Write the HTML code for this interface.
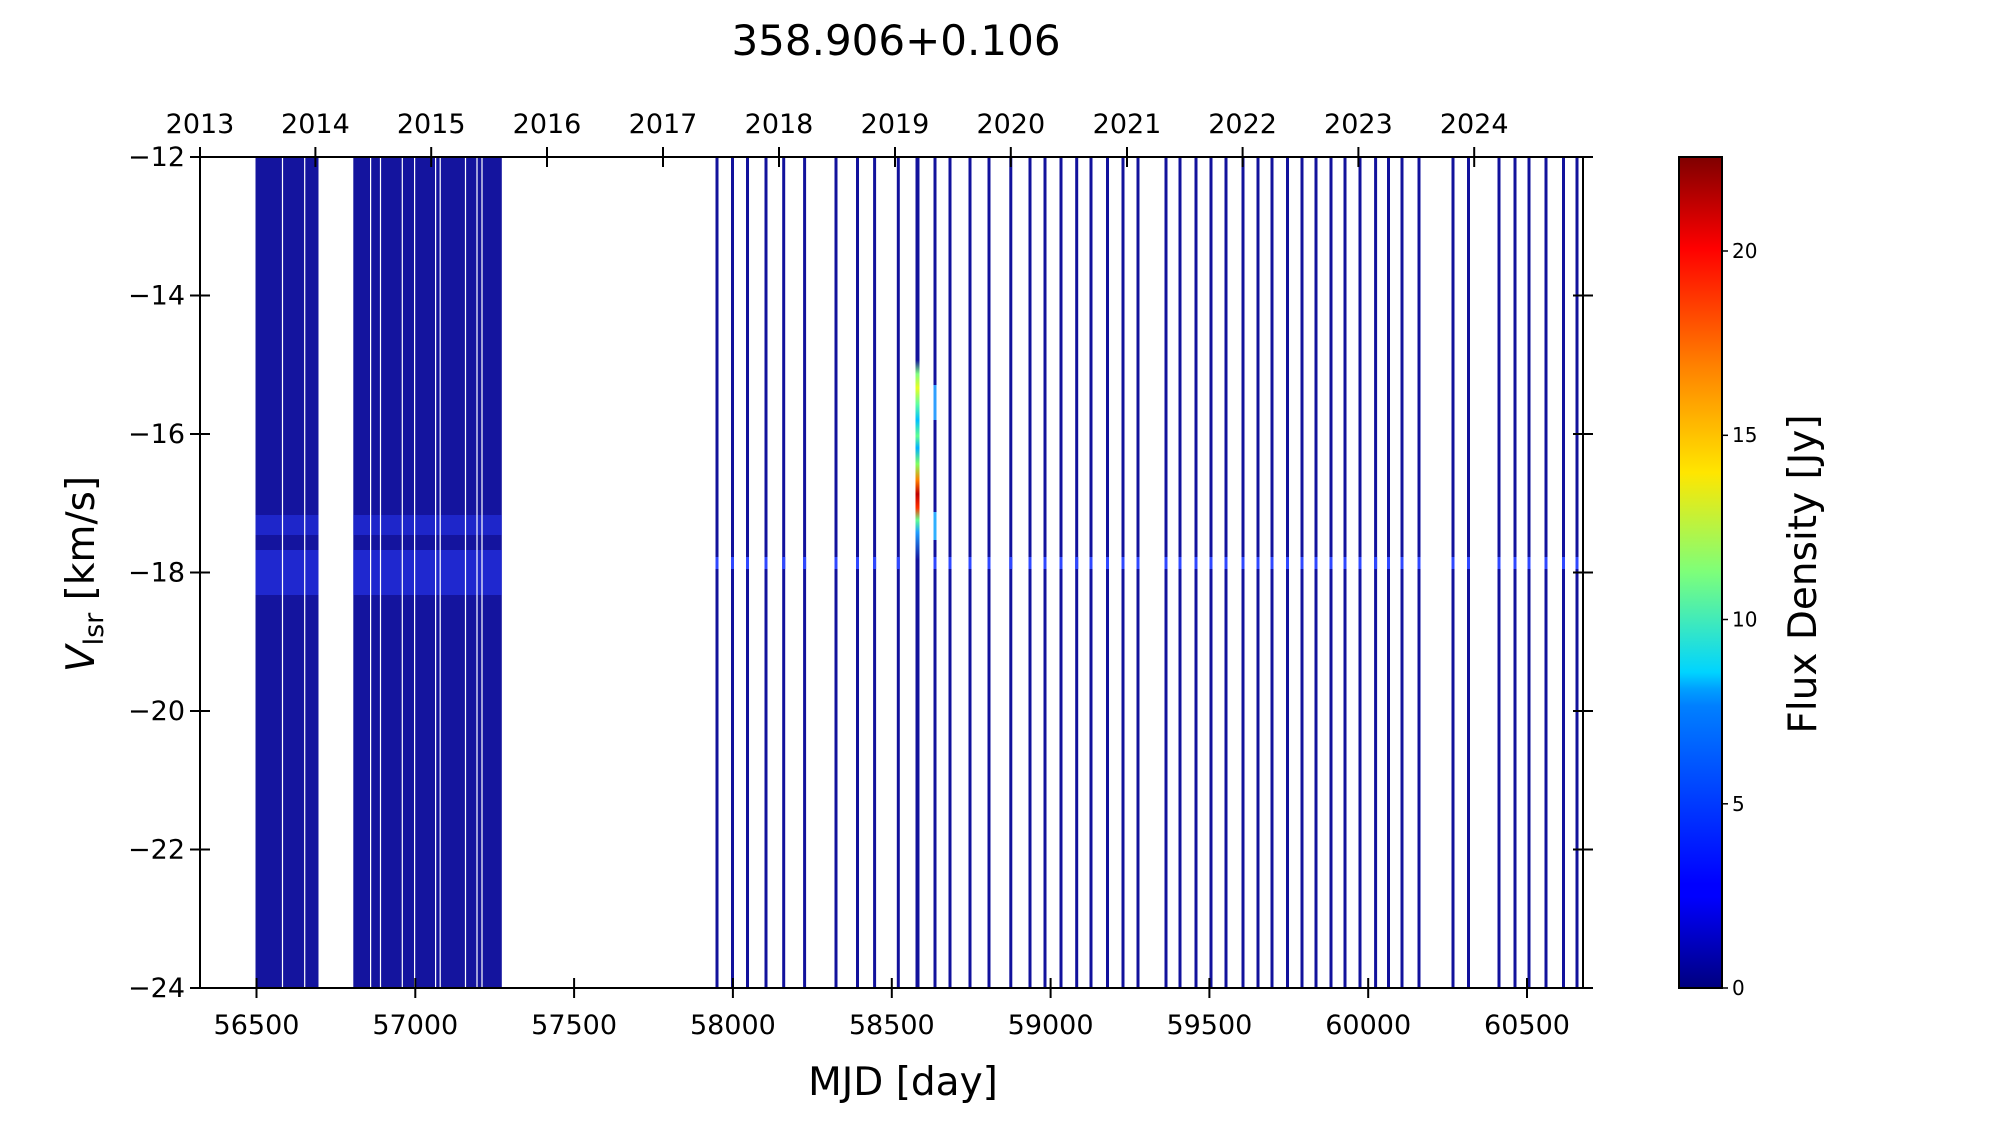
<!DOCTYPE html>
<html><head><meta charset="utf-8"><style>html,body{margin:0;padding:0;background:#fff}svg{display:block}</style></head>
<body>
<svg xmlns="http://www.w3.org/2000/svg" xmlns:xlink="http://www.w3.org/1999/xlink" width="2000" height="1125" viewBox="0 0 2000 1125" font-family="'DejaVu Sans','Liberation Sans',sans-serif">
<defs>
<linearGradient id="jet" x1="0" y1="1" x2="0" y2="0">
<stop offset="0" stop-color="#00007f"/><stop offset="0.11" stop-color="#0000ff"/><stop offset="0.125" stop-color="#0000ff"/>
<stop offset="0.34" stop-color="#0080ff"/><stop offset="0.36" stop-color="#00a0ff"/><stop offset="0.38" stop-color="#00d4ff"/>
<stop offset="0.5" stop-color="#7dff7a"/><stop offset="0.62" stop-color="#ffe600"/><stop offset="0.75" stop-color="#ff8000"/>
<stop offset="0.89" stop-color="#ff0000"/><stop offset="1" stop-color="#7f0000"/></linearGradient>
<linearGradient id="maser" x1="0" y1="0" x2="0" y2="1">
<stop offset="0" stop-color="#12129c"/><stop offset="0.07" stop-color="#80ff80"/>
<stop offset="0.14" stop-color="#e8ff20"/><stop offset="0.22" stop-color="#60ffa0"/><stop offset="0.3" stop-color="#00c0ff"/>
<stop offset="0.38" stop-color="#60ff90"/><stop offset="0.44" stop-color="#00b0ff"/><stop offset="0.52" stop-color="#80ff60"/>
<stop offset="0.6" stop-color="#ff8000"/><stop offset="0.67" stop-color="#c00000"/><stop offset="0.74" stop-color="#ff3000"/>
<stop offset="0.8" stop-color="#60ff90"/><stop offset="0.86" stop-color="#20a0ff"/><stop offset="1" stop-color="#12129c"/></linearGradient>
<clipPath id="band"><rect x="600" y="557" width="1000" height="12"/></clipPath>
<g id="thin">
<line x1="717" y1="157" x2="717" y2="988"/><line x1="732.5" y1="157" x2="732.5" y2="988"/><line x1="747.5" y1="157" x2="747.5" y2="988"/>
<line x1="766" y1="157" x2="766" y2="988"/><line x1="783.7" y1="157" x2="783.7" y2="988"/><line x1="804.6" y1="157" x2="804.6" y2="988"/>
<line x1="836" y1="157" x2="836" y2="988"/><line x1="857.5" y1="157" x2="857.5" y2="988"/><line x1="874.6" y1="157" x2="874.6" y2="988"/>
<line x1="898.3" y1="157" x2="898.3" y2="988"/><line x1="935" y1="157" x2="935" y2="988"/>
<line x1="950" y1="157" x2="950" y2="988"/><line x1="970" y1="157" x2="970" y2="988"/><line x1="989" y1="157" x2="989" y2="988"/>
<line x1="1010.8" y1="157" x2="1010.8" y2="988"/><line x1="1030" y1="157" x2="1030" y2="988"/><line x1="1045" y1="157" x2="1045" y2="988"/>
<line x1="1061" y1="157" x2="1061" y2="988"/><line x1="1076.7" y1="157" x2="1076.7" y2="988"/><line x1="1091" y1="157" x2="1091" y2="988"/>
<line x1="1107.5" y1="157" x2="1107.5" y2="988"/><line x1="1123" y1="157" x2="1123" y2="988"/><line x1="1138" y1="157" x2="1138" y2="988"/>
<line x1="1166" y1="157" x2="1166" y2="988"/><line x1="1180" y1="157" x2="1180" y2="988"/><line x1="1196" y1="157" x2="1196" y2="988"/>
<line x1="1211" y1="157" x2="1211" y2="988"/><line x1="1226" y1="157" x2="1226" y2="988"/><line x1="1243" y1="157" x2="1243" y2="988"/>
<line x1="1258" y1="157" x2="1258" y2="988"/><line x1="1272" y1="157" x2="1272" y2="988"/><line x1="1287.5" y1="157" x2="1287.5" y2="988"/>
<line x1="1302" y1="157" x2="1302" y2="988"/><line x1="1316" y1="157" x2="1316" y2="988"/><line x1="1331" y1="157" x2="1331" y2="988"/>
<line x1="1345" y1="157" x2="1345" y2="988"/><line x1="1360" y1="157" x2="1360" y2="988"/><line x1="1375.6" y1="157" x2="1375.6" y2="988"/>
<line x1="1388.5" y1="157" x2="1388.5" y2="988"/><line x1="1402" y1="157" x2="1402" y2="988"/><line x1="1419" y1="157" x2="1419" y2="988"/>
<line x1="1453" y1="157" x2="1453" y2="988"/><line x1="1468.5" y1="157" x2="1468.5" y2="988"/><line x1="1499" y1="157" x2="1499" y2="988"/>
<line x1="1515" y1="157" x2="1515" y2="988"/><line x1="1529" y1="157" x2="1529" y2="988"/><line x1="1546" y1="157" x2="1546" y2="988"/>
<line x1="1563.5" y1="157" x2="1563.5" y2="988"/><line x1="1577" y1="157" x2="1577" y2="988"/>
</g>
</defs>
<text x="896" y="55" font-size="42" text-anchor="middle">358.906+0.106</text>

<!-- dense regions -->
<rect x="255.5" y="157" width="63" height="831" fill="#14149e"/>
<rect x="353.3" y="157" width="148.5" height="831" fill="#14149e"/>
<rect x="255.5" y="515" width="63" height="20" fill="#2a3cff" opacity="0.45"/>
<rect x="353.3" y="515" width="148.5" height="20" fill="#2a3cff" opacity="0.45"/>
<rect x="255.5" y="550" width="63" height="45" fill="#2a3cff" opacity="0.5"/>
<rect x="353.3" y="550" width="148.5" height="45" fill="#2a3cff" opacity="0.5"/>
<g stroke="#fff" stroke-width="1.2">
<line x1="282.5" y1="157" x2="282.5" y2="988"/><line x1="304.7" y1="157" x2="304.7" y2="988"/>
<line x1="370.6" y1="157" x2="370.6" y2="988"/><line x1="380.5" y1="157" x2="380.5" y2="988"/>
<line x1="402.3" y1="157" x2="402.3" y2="988"/><line x1="414.6" y1="157" x2="414.6" y2="988"/>
<line x1="435.6" y1="157" x2="435.6" y2="988"/><line x1="440.2" y1="157" x2="440.2" y2="988"/>
<line x1="465.5" y1="157" x2="465.5" y2="988"/><line x1="477" y1="157" x2="477" y2="988"/>
<line x1="482" y1="157" x2="482" y2="988"/>
</g>
<!-- thin lines -->
<use xlink:href="#thin" href="#thin" stroke="#12129c" stroke-width="3"/>
<use xlink:href="#thin" href="#thin" stroke="#3048ff" stroke-width="3" clip-path="url(#band)"/>
<rect x="915.5" y="157" width="4" height="831" fill="#12129c"/>
<rect x="915.5" y="360" width="4" height="200" fill="url(#maser)"/>
<rect x="933.5" y="385" width="3" height="35" fill="#30a0ff"/>
<rect x="933.5" y="512" width="3" height="28" fill="#30b0ff"/>

<!-- axes -->
<rect x="200" y="157" width="1383" height="831" fill="none" stroke="#000" stroke-width="2"/>
<g stroke="#000" stroke-width="2">
<line x1="256.5" y1="998" x2="256.5" y2="978"/><line x1="415.3" y1="998" x2="415.3" y2="978"/><line x1="574.1" y1="998" x2="574.1" y2="978"/>
<line x1="732.9" y1="998" x2="732.9" y2="978"/><line x1="891.8" y1="998" x2="891.8" y2="978"/><line x1="1050.6" y1="998" x2="1050.6" y2="978"/>
<line x1="1209.4" y1="998" x2="1209.4" y2="978"/><line x1="1368.2" y1="998" x2="1368.2" y2="978"/><line x1="1527" y1="998" x2="1527" y2="978"/>
<line x1="200" y1="147" x2="200" y2="167"/><line x1="315.4" y1="147" x2="315.4" y2="167"/><line x1="431.2" y1="147" x2="431.2" y2="167"/>
<line x1="547" y1="147" x2="547" y2="167"/><line x1="663" y1="147" x2="663" y2="167"/><line x1="779" y1="147" x2="779" y2="167"/>
<line x1="895" y1="147" x2="895" y2="167"/><line x1="1010.8" y1="147" x2="1010.8" y2="167"/><line x1="1127" y1="147" x2="1127" y2="167"/>
<line x1="1242.6" y1="147" x2="1242.6" y2="167"/><line x1="1358.4" y1="147" x2="1358.4" y2="167"/><line x1="1474.2" y1="147" x2="1474.2" y2="167"/>
<line x1="190" y1="157" x2="210" y2="157"/><line x1="190" y1="295.5" x2="210" y2="295.5"/><line x1="190" y1="434" x2="210" y2="434"/>
<line x1="190" y1="572.5" x2="210" y2="572.5"/><line x1="190" y1="711" x2="210" y2="711"/><line x1="190" y1="849.5" x2="210" y2="849.5"/><line x1="190" y1="988" x2="210" y2="988"/>
<line x1="1573" y1="295.5" x2="1593" y2="295.5"/><line x1="1573" y1="434" x2="1593" y2="434"/><line x1="1573" y1="572.5" x2="1593" y2="572.5"/>
<line x1="1573" y1="711" x2="1593" y2="711"/><line x1="1573" y1="849.5" x2="1593" y2="849.5"/><line x1="1573" y1="157" x2="1593" y2="157"/><line x1="1573" y1="988" x2="1593" y2="988"/>
</g>
<g font-size="27" text-anchor="middle">
<text x="256.5" y="1034">56500</text><text x="415.3" y="1034">57000</text><text x="574.1" y="1034">57500</text>
<text x="732.9" y="1034">58000</text><text x="891.8" y="1034">58500</text><text x="1050.6" y="1034">59000</text>
<text x="1209.4" y="1034">59500</text><text x="1368.2" y="1034">60000</text><text x="1527" y="1034">60500</text>
<text x="200" y="133">2013</text><text x="315.4" y="133">2014</text><text x="431.2" y="133">2015</text><text x="547" y="133">2016</text>
<text x="663" y="133">2017</text><text x="779" y="133">2018</text><text x="895" y="133">2019</text><text x="1010.8" y="133">2020</text>
<text x="1127" y="133">2021</text><text x="1242.6" y="133">2022</text><text x="1358.4" y="133">2023</text><text x="1474.2" y="133">2024</text>
</g>
<g font-size="27" text-anchor="end">
<text x="185" y="166">−12</text><text x="185" y="304.5">−14</text><text x="185" y="443">−16</text><text x="185" y="581.5">−18</text>
<text x="185" y="720">−20</text><text x="185" y="858.5">−22</text><text x="185" y="997">−24</text>
</g>
<text x="903" y="1095" font-size="39" text-anchor="middle">MJD [day]</text>
<text transform="translate(94,574) rotate(-90)" font-size="39" text-anchor="middle"><tspan font-style="italic">V</tspan><tspan font-size="27" dy="9">lsr</tspan><tspan dy="-9"> [km/s]</tspan></text>

<!-- colorbar -->
<rect x="1679" y="157" width="43" height="831" fill="url(#jet)" stroke="#000" stroke-width="2"/>
<g stroke="#000" stroke-width="1.5">
<line x1="1722" y1="988" x2="1728" y2="988"/><line x1="1722" y1="803.8" x2="1728" y2="803.8"/><line x1="1722" y1="619.5" x2="1728" y2="619.5"/>
<line x1="1722" y1="435.3" x2="1728" y2="435.3"/><line x1="1722" y1="251" x2="1728" y2="251"/>
</g>
<g font-size="20">
<text x="1732" y="995">0</text><text x="1732" y="811">5</text><text x="1732" y="626.5">10</text><text x="1732" y="442">15</text><text x="1732" y="258">20</text>
</g>
<text transform="translate(1816,574) rotate(-90)" font-size="39" text-anchor="middle">Flux Density [Jy]</text>
</svg>
</body></html>
